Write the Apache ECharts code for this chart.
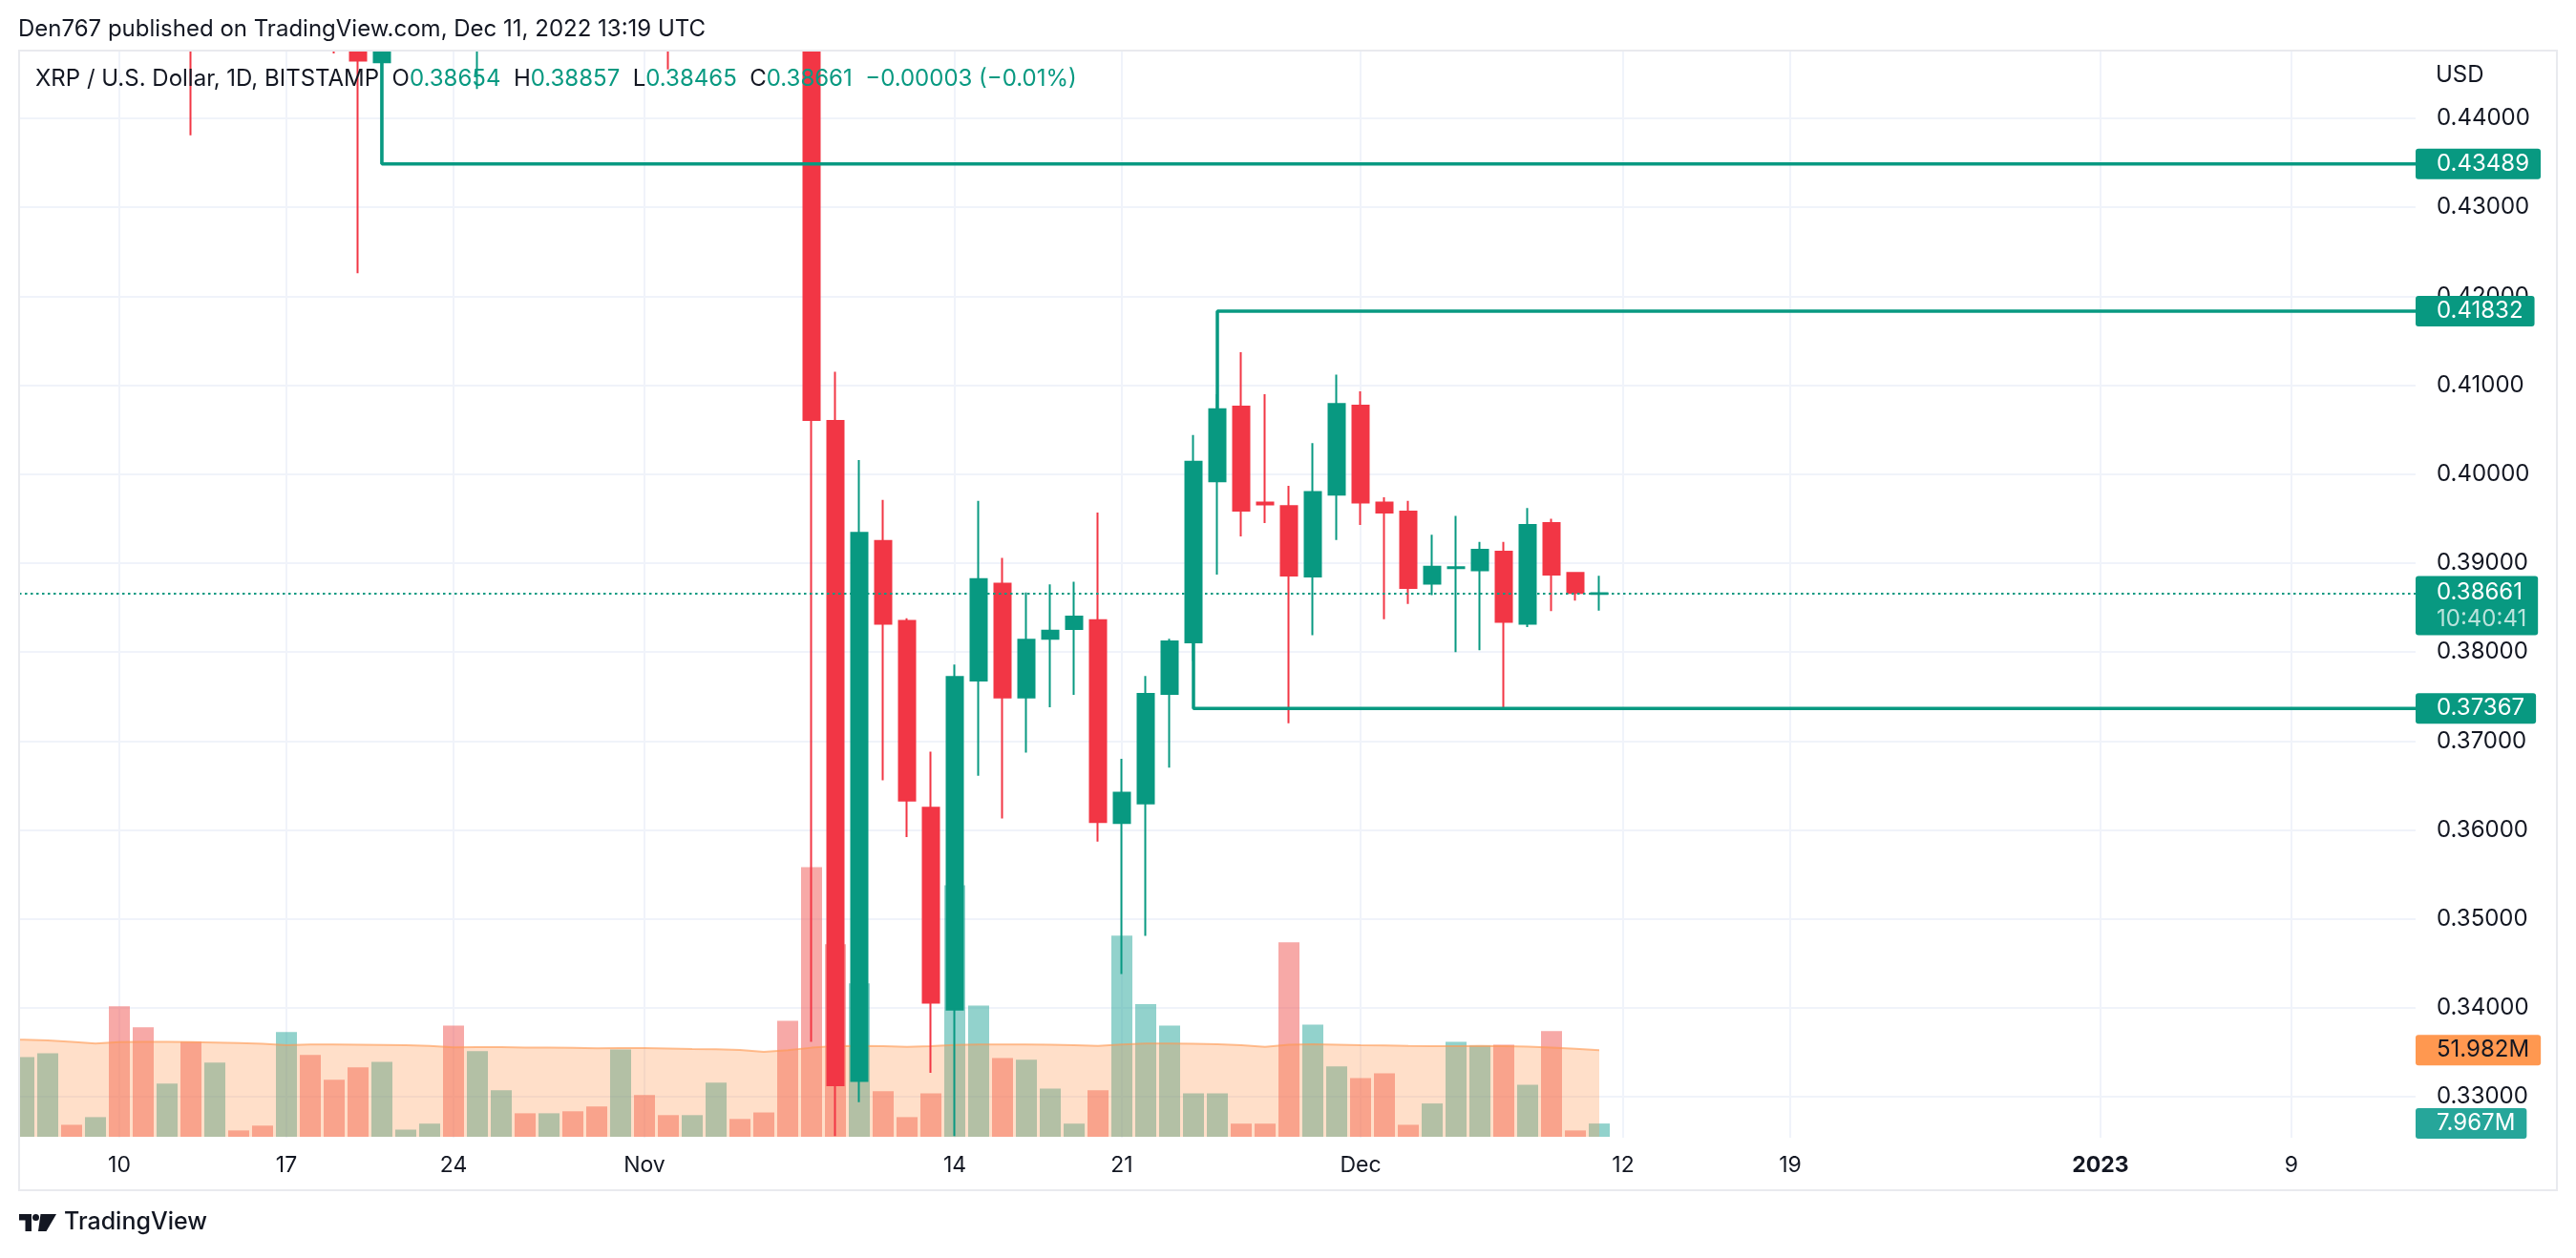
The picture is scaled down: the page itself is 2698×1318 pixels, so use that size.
<!DOCTYPE html>
<html><head><meta charset="utf-8">
<script src="https://cdn.jsdelivr.net/npm/echarts@6.0.0/dist/echarts.min.js"></script>
<style>html,body{margin:0;padding:0;background:#fff;overflow:hidden}#c{width:2698px;height:1318px}</style>
</head><body><div id="c"></div>
<script>
// ---------- data ----------
const dates = ['2022-10-05','2022-10-06','2022-10-07','2022-10-08','2022-10-09','2022-10-10','2022-10-11','2022-10-12','2022-10-13','2022-10-14','2022-10-15',
'2022-10-16','2022-10-17','2022-10-18','2022-10-19','2022-10-20','2022-10-21','2022-10-22','2022-10-23','2022-10-24','2022-10-25',
'2022-10-26','2022-10-27','2022-10-28','2022-10-29','2022-10-30','2022-10-31','2022-11-01','2022-11-02','2022-11-03','2022-11-04',
'2022-11-05','2022-11-06','2022-11-07','2022-11-08','2022-11-09','2022-11-10','2022-11-11','2022-11-12','2022-11-13','2022-11-14',
'2022-11-15','2022-11-16','2022-11-17','2022-11-18','2022-11-19','2022-11-20','2022-11-21','2022-11-22','2022-11-23','2022-11-24',
'2022-11-25','2022-11-26','2022-11-27','2022-11-28','2022-11-29','2022-11-30','2022-12-01','2022-12-02','2022-12-03','2022-12-04',
'2022-12-05','2022-12-06','2022-12-07','2022-12-08','2022-12-09','2022-12-10','2022-12-11'];
const opens = [0.4950,0.4900,0.4990,0.5050,0.4990,0.5010,0.4850,0.4770,0.4810,0.4680,0.4720,
0.4690,0.4660,0.4780,0.4650,0.4570,0.4463,0.4590,0.4620,0.4700,0.4600,
0.4740,0.4800,0.4720,0.4780,0.4720,0.4650,0.4710,0.4640,0.4560,0.4640,
0.4800,0.4740,0.4650,0.4560,0.4060,0.3318,0.3925,0.3835,0.3625,0.3398,
0.3768,0.3877,0.3749,0.3815,0.3826,0.3836,0.3608,0.3630,0.3753,0.3811,
0.3992,0.4076,0.3968,0.3964,0.3885,0.3977,0.4077,0.3968,0.3958,0.3877,
0.38945,0.3892,0.3913,0.3832,0.3945,0.3889,0.38654];
const highs = [0.5050,0.5060,0.5150,0.5080,0.5040,0.5070,0.4920,0.4850,0.4880,0.4830,0.4740,
0.4720,0.4850,0.4800,0.4680,0.4620,0.4640,0.4650,0.4720,0.4750,0.4790,
0.4870,0.4850,0.4800,0.4830,0.4750,0.4750,0.4750,0.4680,0.4660,0.4950,
0.4840,0.4780,0.4680,0.4640,0.4115,0.4016,0.3971,0.3838,0.3688,0.3786,
0.3970,0.3906,0.3867,0.3876,0.3879,0.3957,0.3680,0.3773,0.3815,0.4044,
0.4090,0.4137,0.4090,0.3987,0.4035,0.4112,0.4093,0.3974,0.3970,0.3932,
0.3953,0.3924,0.3924,0.3962,0.3950,0.3890,0.38857];
const lows = [0.4880,0.4860,0.4900,0.4950,0.4960,0.4810,0.4700,0.4740,0.4381,0.4610,0.4650,
0.4630,0.4620,0.4560,0.4473,0.4226,0.4349,0.4560,0.4580,0.4520,0.4433,
0.4700,0.4690,0.4650,0.4680,0.4600,0.4560,0.4570,0.4455,0.4530,0.4600,
0.4700,0.4600,0.4520,0.3362,0.3256,0.3294,0.3656,0.3592,0.3327,0.3256,
0.3661,0.3613,0.3687,0.3738,0.3752,0.3587,0.3438,0.3481,0.3670,0.3790,
0.3887,0.3930,0.3945,0.3720,0.3819,0.3926,0.3943,0.3837,0.3854,0.3864,
0.3800,0.3802,0.3737,0.3828,0.3846,0.3858,0.38465];
const closes = [0.4900,0.4990,0.5050,0.4990,0.5010,0.4850,0.4770,0.4810,0.4680,0.4720,0.4690,
0.4660,0.4780,0.4650,0.4570,0.4465,0.4590,0.4620,0.4700,0.4600,0.4740,
0.4800,0.4720,0.4780,0.4720,0.4650,0.4710,0.4640,0.4560,0.4640,0.4800,
0.4740,0.4650,0.4560,0.4061,0.3313,0.3934,0.3832,0.3633,0.3406,0.3772,
0.3882,0.3749,0.3814,0.3824,0.3840,0.3609,0.3642,0.3753,0.3812,0.4014,
0.4073,0.3959,0.3966,0.3886,0.3980,0.4079,0.3968,0.3957,0.3872,0.3896,
0.38955,0.3915,0.3834,0.3943,0.3887,0.38664,0.38661];
// volume in millions
const volumes = [40.0,47.8,50.1,7.2,11.8,78.3,65.7,32.0,57.0,44.5,3.8,
6.7,62.9,49.1,34.3,41.7,45.0,4.3,7.9,66.8,51.4,
27.9,14.1,14.1,15.3,18.2,52.4,25.1,13.0,13.0,32.5,
10.7,14.6,69.6,161.9,115.6,92.1,27.4,11.8,26.1,150.9,
78.8,47.3,46.3,28.9,7.9,27.9,120.7,79.6,66.8,26.1,
26.1,7.9,7.9,116.7,67.3,42.2,35.3,38.1,7.2,20.0,
57.0,54.7,55.3,31.2,63.4,3.8,7.967];
// volume moving average (millions), read from the orange area
const volumeMA = [58.5,58.3,57.8,57.0,56.0,56.8,57.0,57.0,56.8,56.6,56.3,
55.8,55.0,55.4,55.4,55.3,55.2,55.0,54.6,53.7,53.9,
53.8,53.6,53.5,53.4,53.2,53.3,53.3,53.0,52.7,52.5,
52.2,51.0,52.0,53.5,54.5,54.6,54.5,54.0,54.4,55.2,
55.4,55.4,55.5,55.3,55.0,54.6,55.5,56.0,56.0,55.8,
55.6,55.0,54.0,55.3,55.6,55.3,55.0,54.8,54.6,54.5,
54.4,54.6,54.5,54.2,53.6,52.8,51.982];
// horizontal level drawings
const levelAnchorDates = ['2022-10-21','2022-11-25','2022-11-24'];
const levelAnchorPrices = [0.4463, 0.40726, 0.3811];
const levelValues = [0.43489, 0.41832, 0.37367];
// axis ticks
const priceTicks = [0.33,0.34,0.35,0.36,0.37,0.38,0.39,0.40,0.41,0.42,0.43,0.44];
const timeTickDates = ['2022-10-10','2022-10-17','2022-10-24','2022-11-01','2022-11-14','2022-11-21','2022-12-01','2022-12-12','2022-12-19','2023-01-01','2023-01-09'];
const timeTickLabels = ['10','17','24','Nov','14','21','Dec','12','19','2023','9'];
const countdown = '10:40:41';

// ---------- helpers ----------
const DAY = 86400000;
const ts = s => { const p = s.split('-').map(Number); return Date.UTC(p[0], p[1]-1, p[2]); };
const base = ts('2022-10-10');
const xMin = base - 4.2*DAY, xMax = base + 96.2*DAY;
const pMin = 0.325408, pMax = 0.447618;
const UP = '#089981', DOWN = '#F23645', TXT = '#131722';
const FONT = 'Inter';
const tickMap = {};
timeTickDates.forEach((d,i)=>{ tickMap[ts(d)] = timeTickLabels[i]; });
const tickTs = timeTickDates.map(ts);

const candleData = dates.map((d,i)=>[ts(d), opens[i], closes[i], lows[i], highs[i]]);
const volData = dates.map((d,i)=>({value:[ts(d), volumes[i]], itemStyle:{color: closes[i]>=opens[i] ? 'rgba(38,166,154,0.5)' : 'rgba(239,83,80,0.5)'}}));
const maData = dates.map((d,i)=>[ts(d), volumeMA[i]]);
const n = closes.length-1;
const chg = closes[n]-closes[n-1];
const sgn = chg<0 ? '\u2212' : '+';
const chgText = sgn + Math.abs(chg).toFixed(5) + ' (' + sgn + Math.abs(chg/closes[n-1]*100).toFixed(2) + '%)';
const legColor = closes[n]>=opens[n] ? UP : DOWN;
const NOLINE = {color:'rgba(0,0,0,0)', width:1};

const tagLabel = (bg, fg, text) => ({
  show:true, position:'end', distance:0, formatter:text, backgroundColor:bg, color:fg,
  fontFamily:FONT, fontSize:24, lineHeight:24, padding:[4,12,4,22], borderRadius:3
});

const levelSeries = levelValues.map((lv,i)=>({
  type:'line', xAxisIndex:0, yAxisIndex:0, z:5, silent:true, symbol:'none', clip:true,
  lineStyle:{color:UP, width:3.5},
  data:[[ts(levelAnchorDates[i]), levelAnchorPrices[i]], [ts(levelAnchorDates[i]), lv], [xMax, lv]],
  markLine:{silent:true, symbol:'none', precision:6, lineStyle:NOLINE, data:[{yAxis:lv}],
    label:tagLabel(UP,'#fff',lv.toFixed(5))}
}));

const chart = echarts.init(document.getElementById('c'), null, {renderer:'canvas'});
chart.setOption({
  animation:false,
  backgroundColor:'#ffffff',
  textStyle:{fontFamily:FONT},
  grid:[
    {left:20, top:53, width:2510, height:1139, containLabel:false, outerBoundsMode:'none', show:false},
    {left:20, top:53, width:2510, height:1138, containLabel:false, outerBoundsMode:'none', show:false}
  ],
  xAxis:[
    {type:'value', gridIndex:0, min:xMin, max:xMax,
     axisLine:{show:false}, axisTick:{show:false, customValues:tickTs},
     axisLabel:{customValues:tickTs, margin:18, color:TXT, fontSize:23, fontFamily:FONT,
       formatter:v=>{ const s = tickMap[v]; return s==='2023' ? '{b|2023}' : (s||''); },
       rich:{b:{fontWeight:'bold', fontSize:23, color:TXT, fontFamily:FONT}}},
     splitLine:{show:true, lineStyle:{color:'#F0F3FA', width:2}}},
    {type:'value', gridIndex:1, min:xMin, max:xMax, show:false}
  ],
  yAxis:[
    {type:'value', gridIndex:0, position:'right', min:pMin, max:pMax,
     axisLine:{show:false}, axisTick:{show:false, customValues:priceTicks},
     axisLabel:{customValues:priceTicks, margin:22, color:TXT, fontSize:24, fontFamily:FONT,
       formatter:v=>v.toFixed(5)},
     splitLine:{show:true, lineStyle:{color:'#F0F3FA', width:2}}},
    {type:'value', gridIndex:1, min:0, max:652, show:false}
  ],
  series:[
    {type:'bar', xAxisIndex:1, yAxisIndex:1, z:1, silent:true, clip:true, barWidth:22, data:volData,
     markLine:{silent:true, symbol:'none', precision:3, lineStyle:NOLINE, data:[{yAxis:volumes[n]}],
       label:tagLabel('#26A69A','#ffffff', volumes[n].toFixed(3)+'M')}},
    {type:'line', xAxisIndex:1, yAxisIndex:1, z:2, silent:true, symbol:'none', clip:true, data:maData,
     lineStyle:{color:'rgba(255,152,80,0.6)', width:2}, areaStyle:{color:'rgba(255,152,80,0.44)'},
     markLine:{silent:true, symbol:'none', precision:3, lineStyle:NOLINE, data:[{yAxis:volumeMA[n]}],
       label:tagLabel('#FF9850',TXT, volumeMA[n].toFixed(3)+'M')}},
    {type:'line', xAxisIndex:0, yAxisIndex:0, z:2, silent:true, symbol:'none',
     data:[[ts(dates[n]), closes[n]]], lineStyle:NOLINE,
     markLine:{silent:true, symbol:'none', precision:6, data:[{yAxis:closes[n]}],
       lineStyle:{color:UP, width:2, type:[2.5,3.5]},
       label:{show:true, position:'end', distance:0, offset:[0,13],
         formatter:'{p|'+closes[n].toFixed(5)+'}\n{t|'+countdown+'}',
         backgroundColor:UP, padding:[3,12,3,22], borderRadius:3,
         rich:{p:{color:'#fff', fontSize:24, lineHeight:28, fontFamily:FONT},
               t:{color:'rgba(255,255,255,0.72)', fontSize:24, lineHeight:28, fontFamily:FONT}}}}},
    {type:'candlestick', xAxisIndex:0, yAxisIndex:0, z:3, silent:true, clip:true, barWidth:18,
     dimensions:['time','open','close','low','high'],
     encode:{x:'time', y:['open','close','low','high']},
     data:candleData,
     itemStyle:{color:UP, color0:DOWN, borderColor:UP, borderColor0:DOWN, borderWidth:2}}
  ].concat(levelSeries),
  graphic:[
    {type:'rect', z:50, silent:true, shape:{x:0, y:0, width:2698, height:52}, style:{fill:'#ffffff'}},
    {type:'rect', z:50, silent:true, shape:{x:0, y:40, width:19, height:1220}, style:{fill:'#ffffff'}},
    {type:'rect', z:51, silent:true, shape:{x:20, y:53, width:2658, height:1194},
     style:{fill:'none', stroke:'#E9EAEE', lineWidth:2}},
    {type:'text', z:60, left:19, top:19, silent:true,
     style:{text:'Den767 published on TradingView.com, Dec 11, 2022 13:19 UTC', fill:TXT, font:'24px Inter'}},
    {type:'text', z:60, left:37, top:71, silent:true,
     style:{text:'{d|XRP / U.S. Dollar, 1D, BITSTAMP}  {d|O}{g|'+opens[n].toFixed(5)+'}  {d|H}{g|'+highs[n].toFixed(5)+'}  {d|L}{g|'+lows[n].toFixed(5)+'}  {d|C}{g|'+closes[n].toFixed(5)+'}  {g|'+chgText+'}',
       font:'24px Inter',
       rich:{d:{fill:TXT, font:'24px Inter'}, g:{fill:legColor, font:'24px Inter'}}}},
    {type:'text', z:60, left:2551, top:67, silent:true, style:{text:'USD', fill:TXT, font:'24px Inter'}},
    {type:'group', left:20, top:1272, silent:true, children:[
      {type:'rect', shape:{x:0, y:0, width:13, height:6.5}, style:{fill:TXT}},
      {type:'rect', shape:{x:6.5, y:0, width:6.5, height:18}, style:{fill:TXT}},
      {type:'circle', shape:{cx:17.5, cy:3.6, r:3.5}, style:{fill:TXT}},
      {type:'polygon', shape:{points:[[22.5,0],[39,0],[28.5,18],[20,18]]}, style:{fill:TXT}}
    ]},
    {type:'text', left:67, top:1268, silent:true, style:{text:'TradingView', fill:TXT, font:'500 25px Inter'}}
  ]
});
</script></body></html>
